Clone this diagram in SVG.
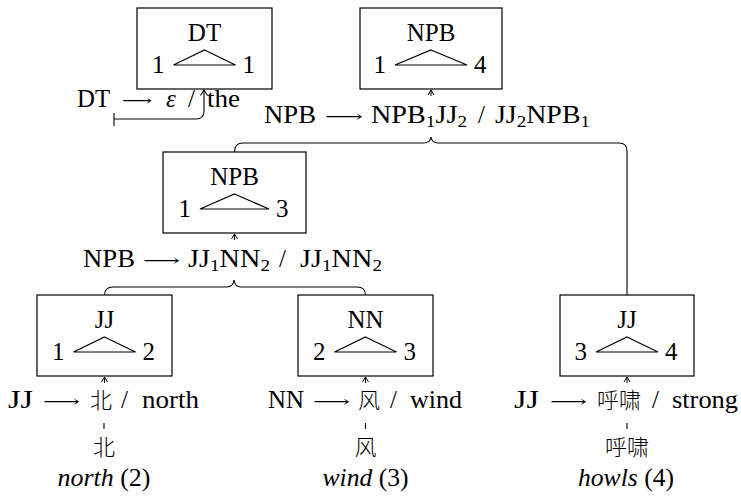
<svg xmlns="http://www.w3.org/2000/svg" width="741" height="499" viewBox="0 0 741 499">
<style>
.box{fill:none;stroke:#000;stroke-width:1.2}
.tri{fill:none;stroke:#000;stroke-width:1.2;stroke-linejoin:miter}
.t{font-family:"Liberation Serif",serif;font-size:25px;fill:#000}
.it{font-style:italic}
.sub{font-size:17px}
.cjk{font-family:"Noto Sans CJK SC","Noto Sans CJK TC",sans-serif;font-size:22px;font-weight:300;fill:#000}
.arr{font-family:"DejaVu Serif","DejaVu Sans",sans-serif;font-size:16px;fill:#000}
.conn{fill:none;stroke:#000;stroke-width:1.1}
.mid{text-anchor:middle}
.end{text-anchor:end}
</style>
<defs>
<path id="tip" d="M-3,5 L0,0 L3,5 M0,0 V6" fill="none" stroke="#000" stroke-width="1"/>
</defs>

<!-- nodes: boxes -->
<g id="box-dt">
<rect class="box" x="137" y="8" width="135" height="81"/>
<text class="t mid" x="204.5" y="41">DT</text>
<path class="tri" d="M204.5,50 L235.5,65 H173.5 Z"/>
<text class="t end" x="164.5" y="73">1</text>
<text class="t" x="242.5" y="73">1</text>
</g>
<g id="box-npb-top">
<rect class="box" x="360" y="8" width="142" height="81"/>
<text class="t mid" x="431" y="41">NPB</text>
<path class="tri" d="M431,50 L467,65 H395 Z"/>
<text class="t end" x="386" y="73">1</text>
<text class="t" x="474" y="73">4</text>
</g>
<g id="box-npb-mid">
<rect class="box" x="163" y="152" width="143" height="81"/>
<text class="t mid" x="234.5" y="185">NPB</text>
<path class="tri" d="M234.5,194 L269,209 H200 Z"/>
<text class="t end" x="191" y="217">1</text>
<text class="t" x="276" y="217">3</text>
</g>
<g id="box-jj-left">
<rect class="box" x="37" y="295" width="135" height="81"/>
<text class="t mid" x="104.5" y="328">JJ</text>
<path class="tri" d="M104.5,337 L135.5,352 H73.5 Z"/>
<text class="t end" x="64.5" y="360">1</text>
<text class="t" x="142.5" y="360">2</text>
</g>
<g id="box-nn">
<rect class="box" x="298" y="295" width="135" height="81"/>
<text class="t mid" x="365.5" y="328">NN</text>
<path class="tri" d="M365.5,337 L396.5,352 H334.5 Z"/>
<text class="t end" x="325.5" y="360">2</text>
<text class="t" x="403.5" y="360">3</text>
</g>
<g id="box-jj-right">
<rect class="box" x="560" y="295" width="134" height="81"/>
<text class="t mid" x="627" y="328">JJ</text>
<path class="tri" d="M627,337 L658,352 H596 Z"/>
<text class="t end" x="587" y="360">3</text>
<text class="t" x="665" y="360">4</text>
</g>

<!-- nodes: rules -->
<g id="rule-dt">
<text class="t" x="77" y="107" textLength="33" lengthAdjust="spacingAndGlyphs">DT</text>
<text class="arr" x="122" y="106" textLength="30" lengthAdjust="spacingAndGlyphs">⟶</text>
<text class="t it" x="166" y="107">ε</text>
<text class="t" x="188" y="107">/</text>
<text class="t" x="207" y="107" textLength="33" lengthAdjust="spacingAndGlyphs">the</text>
</g>
<g id="rule-npb-top">
<text class="t" x="264" y="123" textLength="52" lengthAdjust="spacingAndGlyphs">NPB</text>
<text class="arr" x="325" y="122" textLength="38" lengthAdjust="spacingAndGlyphs">⟶</text>
<text class="t" x="371" y="123" textLength="96" lengthAdjust="spacingAndGlyphs">NPB<tspan class="sub" dy="4">1</tspan><tspan dy="-4">JJ</tspan><tspan class="sub" dy="4">2</tspan></text>
<text class="t" x="478" y="123">/</text>
<text class="t" x="495" y="123" textLength="95" lengthAdjust="spacingAndGlyphs">JJ<tspan class="sub" dy="4">2</tspan><tspan dy="-4">NPB</tspan><tspan class="sub" dy="4">1</tspan></text>
</g>
<g id="rule-npb-mid">
<text class="t" x="83" y="267" textLength="52" lengthAdjust="spacingAndGlyphs">NPB</text>
<text class="arr" x="143" y="266" textLength="37" lengthAdjust="spacingAndGlyphs">⟶</text>
<text class="t" x="188" y="267" textLength="82" lengthAdjust="spacingAndGlyphs">JJ<tspan class="sub" dy="4">1</tspan><tspan dy="-4">NN</tspan><tspan class="sub" dy="4">2</tspan></text>
<text class="t" x="279" y="267">/</text>
<text class="t" x="300" y="267" textLength="82" lengthAdjust="spacingAndGlyphs">JJ<tspan class="sub" dy="4">1</tspan><tspan dy="-4">NN</tspan><tspan class="sub" dy="4">2</tspan></text>
</g>
<g id="rule-jj-left">
<text class="t" x="8" y="408" textLength="25" lengthAdjust="spacingAndGlyphs">JJ</text>
<text class="arr" x="43" y="407" textLength="37" lengthAdjust="spacingAndGlyphs">⟶</text>
<text class="cjk" x="90" y="408">北</text>
<text class="t" x="121" y="408">/</text>
<text class="t" x="142" y="408" textLength="57" lengthAdjust="spacingAndGlyphs">north</text>
</g>
<g id="rule-nn">
<text class="t" x="268" y="408" textLength="36" lengthAdjust="spacingAndGlyphs">NN</text>
<text class="arr" x="313" y="407" textLength="37" lengthAdjust="spacingAndGlyphs">⟶</text>
<text class="cjk" x="358" y="408">风</text>
<text class="t" x="390" y="408">/</text>
<text class="t" x="410" y="408" textLength="52" lengthAdjust="spacingAndGlyphs">wind</text>
</g>
<g id="rule-jj-right">
<text class="t" x="514" y="408" textLength="25" lengthAdjust="spacingAndGlyphs">JJ</text>
<text class="arr" x="550" y="407" textLength="37" lengthAdjust="spacingAndGlyphs">⟶</text>
<text class="cjk" x="597" y="408">呼啸</text>
<text class="t" x="652" y="408">/</text>
<text class="t" x="672" y="408" textLength="66" lengthAdjust="spacingAndGlyphs">strong</text>
</g>

<!-- nodes: words -->
<g id="word-bei">
<text class="cjk mid" x="104" y="455">北</text>
<text class="t mid" x="104" y="486" textLength="93" lengthAdjust="spacingAndGlyphs"><tspan class="it">north</tspan> (2)</text>
</g>
<g id="word-feng">
<text class="cjk mid" x="365.5" y="455">风</text>
<text class="t mid" x="365.5" y="486" textLength="86" lengthAdjust="spacingAndGlyphs"><tspan class="it">wind</tspan> (3)</text>
</g>
<g id="word-huxiao">
<text class="cjk mid" x="627" y="455">呼啸</text>
<text class="t mid" x="626" y="486" textLength="96" lengthAdjust="spacingAndGlyphs"><tspan class="it">howls</tspan> (4)</text>
</g>

<!-- connectors -->
<g id="connectors">
<use href="#tip" x="431" y="90"/>
<use href="#tip" x="234.5" y="234"/>
<use href="#tip" x="104.5" y="377"/>
<use href="#tip" x="365.5" y="377"/>
<use href="#tip" x="627" y="377"/>
<path class="conn" d="M114,113 V126 M114,119 H196 Q204,119 204,111 V91"/>
<path class="conn" d="M200.5,95.5 L204,90 L207.5,95.5"/>
<path class="conn" d="M234.5,152 Q234.5,143 243,143 H424 Q430,143 431,137 Q432,143 438,143 H619 Q627,143 627,151 V295"/>
<path class="conn" d="M104.5,295 Q104.5,287 113,287 H227 Q233,287 234,280 Q235,287 241,287 H357 Q365.5,287 365.5,295"/>
<path class="conn" d="M104,423 V429 M365.5,423 V429 M627,423 V429"/>
</g>
</svg>
